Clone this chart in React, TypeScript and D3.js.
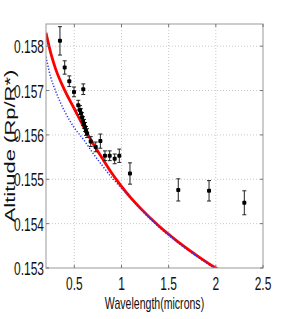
import * as d3 from "d3";

// observed transit depths (wavelength in microns, Rp/R*, half error)
const obsWave = [0.348, 0.398, 0.447, 0.497, 0.542, 0.56, 0.571, 0.582, 0.592, 0.595, 0.603, 0.613, 0.624, 0.635, 0.674, 0.727, 0.776, 0.825, 0.875, 0.928, 0.977, 1.09, 1.602, 1.928, 2.302];
const obsAlt = [0.15812, 0.15752, 0.15721, 0.15697, 0.15667, 0.15656, 0.15649, 0.1564, 0.15631, 0.15703, 0.15625, 0.15618, 0.15609, 0.15604, 0.15585, 0.15573, 0.15586, 0.15553, 0.15553, 0.15546, 0.15553, 0.15513, 0.15476, 0.15474, 0.15447];
const obsErr = [0.00032, 0.00015, 0.00012, 0.00011, 0.00011, 0.0001, 0.0001, 0.0001, 0.0001, 0.00012, 0.0001, 0.0001, 0.0001, 0.0001, 0.00011, 0.00011, 0.00016, 0.00011, 0.00011, 0.00011, 0.00015, 0.00024, 0.00025, 0.00023, 0.00027];

// model curves
const modelWave = [0.2, 0.25, 0.3, 0.4, 0.5, 0.6, 0.7, 0.8, 0.9, 1.0, 1.1, 1.2, 1.4, 1.6, 1.8, 2.0, 2.1];
const redModel = [0.1583, 0.15785, 0.1575, 0.157, 0.15659, 0.15618, 0.1558, 0.15546, 0.15513, 0.15484, 0.15458, 0.15435, 0.15394, 0.15359, 0.15328, 0.153, 0.15288];
const blueModel = [0.15776, 0.1573, 0.157, 0.15652, 0.15616, 0.15589, 0.15558, 0.1553, 0.15503, 0.1548, 0.15456, 0.15433, 0.15392, 0.15357, 0.15326, 0.15298, 0.15286];

const xTicks = [0.5, 1, 1.5, 2, 2.5];
const yTicks = [0.153, 0.154, 0.155, 0.156, 0.157, 0.158];

const W = 291, H = 319;
const m = { left: 46, top: 24, right: 28, bottom: 51 };
const font = "'Liberation Sans', Arial, sans-serif";
const sx = 0.63; // glyphs in the picture are squeezed horizontally

export default function App() {
  const x = d3.scaleLinear().domain([0.2, 2.5]).range([m.left, W - m.right]);
  const y = d3.scaleLinear().domain([0.153, 0.1585]).range([H - m.bottom, m.top]);
  const x0 = m.left, x1 = W - m.right, y0 = H - m.bottom, y1 = m.top;

  const line = d3.line<number>()
    .x((_, i) => x(modelWave[i]))
    .curve(d3.curveMonotoneX);
  const redPath = line.y((d) => y(d))(redModel) || "";
  const bluePath = line.y((d) => y(d))(blueModel) || "";

  return (
    <svg width={W} height={H} style={{ position: "absolute", left: 0, top: 0, background: "#fff" }}>
      <defs>
        <clipPath id="plot">
          <rect x={x0} y={y1} width={x1 - x0} height={y0 - y1} />
        </clipPath>
      </defs>

      {/* grid */}
      {xTicks.slice(0, -1).map((t) => (
        <line key={"gx" + t} x1={x(t)} x2={x(t)} y1={y0} y2={y1} stroke="#c8c8c8" strokeDasharray="1,2" />
      ))}
      {yTicks.slice(1).map((t) => (
        <line key={"gy" + t} x1={x0} x2={x1} y1={y(t)} y2={y(t)} stroke="#c8c8c8" strokeDasharray="1,2" />
      ))}

      {/* models */}
      <g clipPath="url(#plot)" fill="none">
        <path d={redPath} stroke="#ff0000" strokeWidth={2.8} />
        <path d={bluePath} stroke="#2233ff" strokeWidth={1.5} strokeDasharray="1.2,1.8" />
      </g>

      {/* data with error bars */}
      <g stroke="#222" strokeWidth={1}>
        {obsWave.map((w, i) => {
          const cx = x(w), top = y(obsAlt[i] + obsErr[i]), bot = y(obsAlt[i] - obsErr[i]);
          return (
            <g key={"e" + i}>
              <line x1={cx} x2={cx} y1={top} y2={bot} />
              <line x1={cx - 2} x2={cx + 2} y1={top} y2={top} />
              <line x1={cx - 2} x2={cx + 2} y1={bot} y2={bot} />
            </g>
          );
        })}
      </g>
      {obsWave.map((w, i) => (
        <rect key={"p" + i} x={x(w) - 2} y={y(obsAlt[i]) - 2} width={4} height={4} rx={1} fill="#000" />
      ))}

      {/* frame */}
      <rect x={x0} y={y1} width={x1 - x0} height={y0 - y1} fill="none" stroke="#999" strokeWidth={1} />
      {xTicks.map((t) => (
        <g key={"tx" + t} stroke="#777">
          <line x1={x(t)} x2={x(t)} y1={y0} y2={y0 - 3} />
          <line x1={x(t)} x2={x(t)} y1={y1} y2={y1 + 3} />
        </g>
      ))}
      {yTicks.map((t) => (
        <g key={"ty" + t} stroke="#777">
          <line x1={x0} x2={x0 + 3} y1={y(t)} y2={y(t)} />
          <line x1={x1} x2={x1 - 3} y1={y(t)} y2={y(t)} />
        </g>
      ))}

      {/* tick labels */}
      <g fontFamily={font} fontSize={19} fill="#111">
        {xTicks.map((t) => (
          <text key={"lx" + t} transform={`translate(${x(t)},${y0 + 22}) scale(${sx},1)`} textAnchor="middle">
            {String(t)}
          </text>
        ))}
        {yTicks.map((t) => (
          <text key={"ly" + t} transform={`translate(${x0 - 2},${y(t) + 7}) scale(${sx},1)`} textAnchor="end">
            {d3.format(".3f")(t)}
          </text>
        ))}
      </g>

      {/* axis titles */}
      <text transform={`translate(${(x0 + x1) / 2},${H - 10}) scale(0.66,1)`} textAnchor="middle" fontFamily={font} fontSize={16} fill="#111">
        Wavelength(microns)
      </text>
      <text transform={`translate(15,${(y0 + y1) / 2}) scale(${sx},1) rotate(-90)`} textAnchor="middle" fontFamily={font} fontSize={22} fill="#111">
        Altitude (Rp/R*)
      </text>
    </svg>
  );
}
